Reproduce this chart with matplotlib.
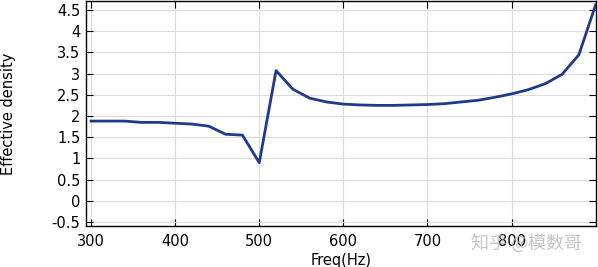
import matplotlib
matplotlib.use("Agg")
import matplotlib.pyplot as plt
import numpy as np

# Frequency sweep (Hz) and effective density
freq = [300, 320, 340, 360, 380, 400, 420, 440, 460, 480, 500,
        520, 540, 560, 580, 600, 620, 640, 660, 680, 700,
        720, 740, 760, 780, 800, 820, 840, 860, 880, 900]
density = [1.88, 1.88, 1.88, 1.85, 1.85, 1.83, 1.81, 1.76, 1.57, 1.55, 0.90,
           3.07, 2.63, 2.42, 2.33, 2.28, 2.26, 2.25, 2.25, 2.26, 2.27,
           2.29, 2.33, 2.37, 2.44, 2.52, 2.62, 2.76, 2.98, 3.44, 4.62]

x_ticks = [300, 400, 500, 600, 700, 800]
y_ticks = np.arange(-0.5, 4.51, 0.5)

fig = plt.figure(figsize=(5.98, 2.67), dpi=100)
ax = fig.add_axes([0.1438, 0.1536, 0.853, 0.843])

ax.plot(freq, density, color="#1f3a8a", linewidth=2.0, zorder=3)

ax.set_xlim(294, 900.5)
ax.set_ylim(-0.59, 4.71)
ax.set_xticks(x_ticks)
ax.set_yticks(y_ticks)
ax.set_yticklabels([f"{v:g}" for v in y_ticks])
ax.grid(True, color="#dcdcdc", linewidth=0.8)
ax.tick_params(direction="in", top=True, right=True, length=5,
               labelsize=10.5, colors="black")
ax.tick_params(axis="x", pad=6)
ax.tick_params(axis="y", pad=4)
for s in ax.spines.values():
    s.set_linewidth(1.0)

ax.set_xlabel("Freq(Hz)", fontsize=10.5, labelpad=3)
ax.set_ylabel("Effective density", fontsize=10.5, va="center")
ax.yaxis.set_label_coords(-0.151, 0.5)

# watermark
fig.text(0.881, 0.09, "知乎 @模数哥", fontsize=13, color="#b8b8b8",
         alpha=0.8, ha="center", va="center",
         family=["Noto Sans CJK SC", "DejaVu Sans"])

fig.savefig("out.png", dpi=100)
